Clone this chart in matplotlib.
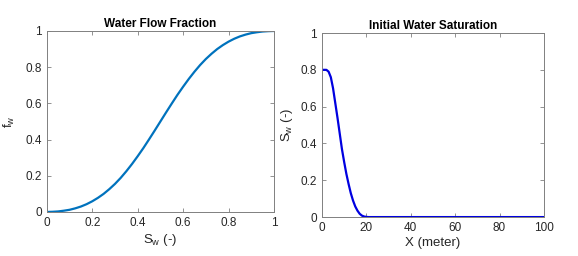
"""Fractional flow curve and initial saturation profile."""
import matplotlib
matplotlib.use("Agg")
import matplotlib.pyplot as plt

# water flow fraction vs saturation
sw = [0.0, 0.025, 0.05, 0.075, 0.1, 0.125, 0.15, 0.175, 0.2, 0.225, 0.25,
      0.275, 0.3, 0.325, 0.35, 0.375, 0.4, 0.425, 0.45, 0.475, 0.5,
      0.525, 0.55, 0.575, 0.6, 0.625, 0.65, 0.675, 0.7, 0.725, 0.75,
      0.775, 0.8, 0.825, 0.85, 0.875, 0.9, 0.925, 0.95, 0.975, 1.0]
fw = [0.0, 0.001, 0.003, 0.007, 0.012, 0.020, 0.030, 0.043, 0.059, 0.078, 0.10,
      0.126, 0.155, 0.188, 0.225, 0.265, 0.308, 0.353, 0.401, 0.450, 0.5,
      0.550, 0.599, 0.647, 0.692, 0.735, 0.775, 0.812, 0.845, 0.874, 0.90,
      0.922, 0.941, 0.957, 0.970, 0.980, 0.988, 0.993, 0.997, 0.999, 1.0]

# initial water saturation profile
x_m = [0, 1, 2, 3, 4, 5, 6, 7, 8, 9, 10, 11, 12, 13, 14, 15, 16, 17, 18,
       19, 20, 21, 100]
sw0 = [0.8, 0.8, 0.8, 0.79, 0.76, 0.70, 0.62, 0.54, 0.455, 0.37, 0.30,
       0.235, 0.18, 0.13, 0.09, 0.058, 0.035, 0.018, 0.008, 0.003, 0.001,
       0.0, 0.0]

plt.rcParams["font.family"] = ["Liberation Sans", "DejaVu Sans"]
plt.rcParams["font.size"] = 8
plt.rcParams["mathtext.default"] = "regular"

TXT = "#262626"
EDGE = "#808080"


def _style(ax):
    for s in ax.spines.values():
        s.set_color(EDGE)
        s.set_linewidth(0.7)
    ax.tick_params(direction="in", top=True, right=True, length=3,
                   width=0.6, color=EDGE, labelcolor=TXT, labelsize=8.5)


fig = plt.figure(figsize=(5.78, 2.56), dpi=100)
ax1 = fig.add_axes([0.081, 0.172, 0.393, 0.707])
ax2 = fig.add_axes([0.557, 0.152, 0.384, 0.719])

ax1.plot(sw, fw, color="#0072BD", lw=1.6)
ax1.set_xlim(0, 1); ax1.set_ylim(0, 1)
ax1.set_xticks([0, 0.2, 0.4, 0.6, 0.8, 1])
ax1.set_xticklabels(["0", "0.2", "0.4", "0.6", "0.8", "1"])
ax1.set_yticks([0, 0.2, 0.4, 0.6, 0.8, 1])
ax1.set_yticklabels(["0", "0.2", "0.4", "0.6", "0.8", "1"])
ax1.set_xlabel("S$_w$ (-)", color=TXT, fontsize=9.5, labelpad=2)
ax1.set_ylabel("f$_w$", color=TXT, fontsize=9.5, labelpad=6)
ax1.set_title("Water Flow Fraction", fontsize=8.5, fontweight="bold", pad=3)
_style(ax1)

ax2.plot(x_m, sw0, color="#0000E0", lw=1.6)
ax2.set_xlim(0, 100); ax2.set_ylim(0, 1)
ax2.set_yticks([0, 0.2, 0.4, 0.6, 0.8, 1])
ax2.set_yticklabels(["0", "0.2", "0.4", "0.6", "0.8", "1"])
ax2.set_xlabel("X (meter)", color=TXT, fontsize=9.5, labelpad=2)
ax2.set_ylabel("S$_w$ (-)", color=TXT, fontsize=9.5, labelpad=4)
ax2.set_title("Initial Water Saturation", fontsize=8.5, fontweight="bold", pad=3)
_style(ax2)

fig.savefig("out.png", dpi=100)
